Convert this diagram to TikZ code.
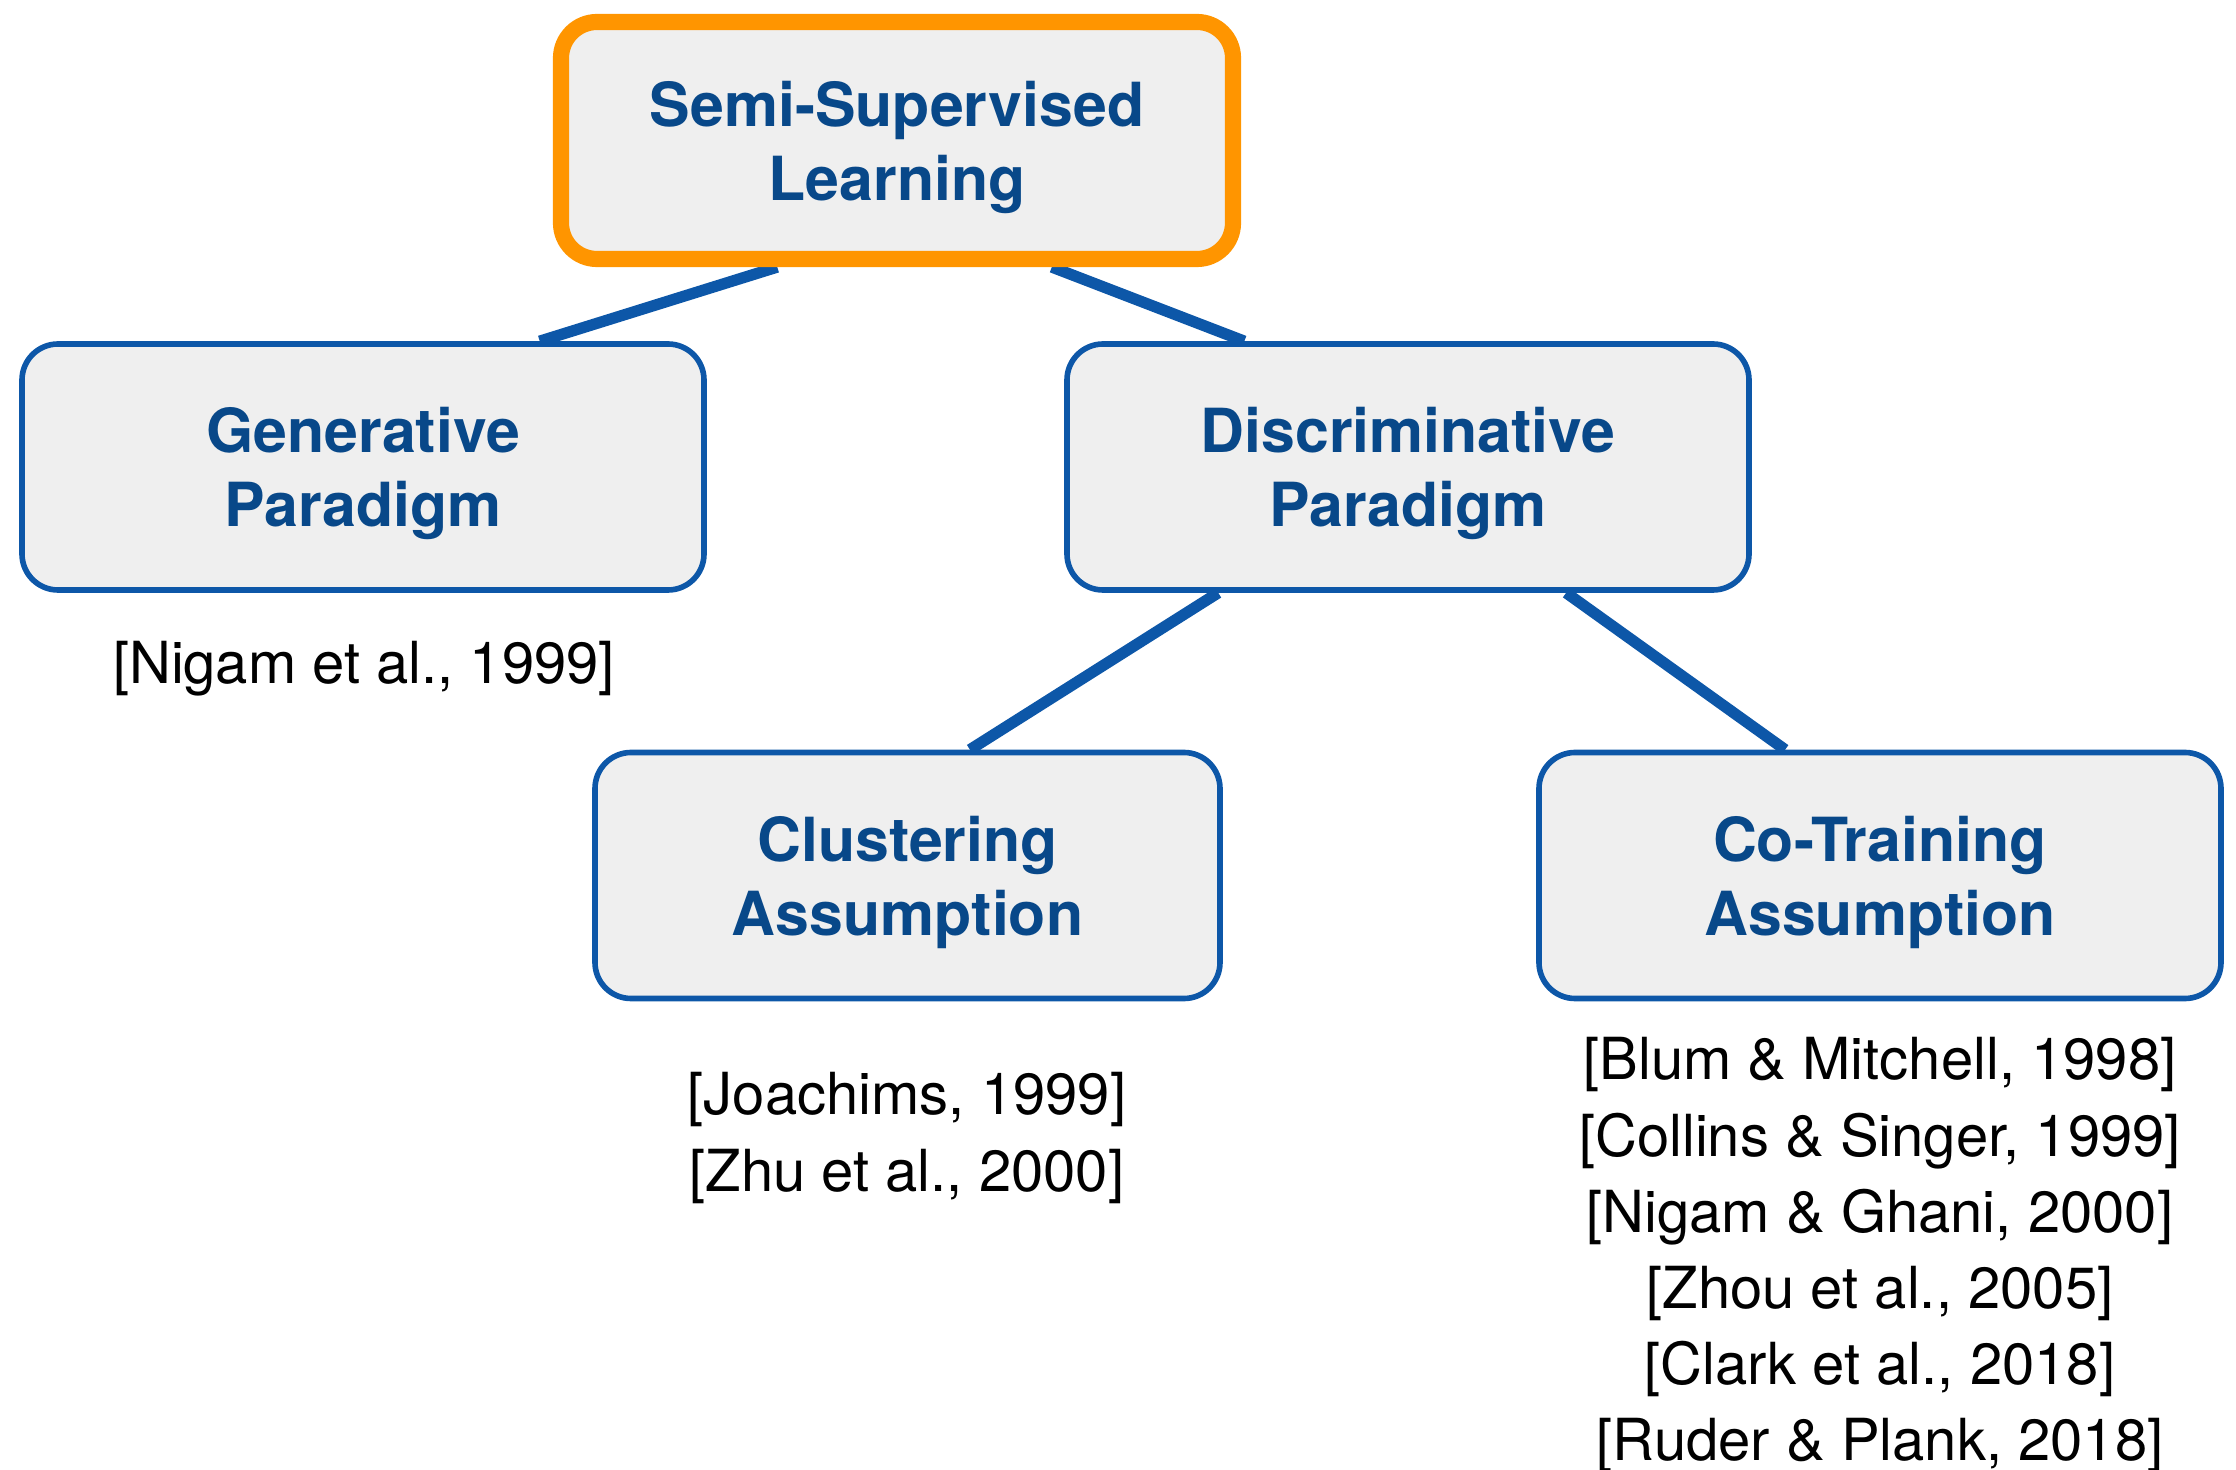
\documentclass[tikz,border=0pt]{standalone}
\usepackage{fontspec}
\setsansfont{TeX Gyre Heros}
\renewcommand{\familydefault}{\sfdefault}
\usetikzlibrary{calc,backgrounds}
\definecolor{boxfill}{HTML}{EFEFEF}
\definecolor{edgeblue}{HTML}{0D57A8}
\definecolor{textblue}{HTML}{084889}
\definecolor{rootorange}{HTML}{FF9500}

\begin{document}
\begin{tikzpicture}[x=1cm,y=1cm,
    topic/.style={draw=edgeblue,line width=1.6pt,fill=boxfill,rounded corners=0.36cm,
      align=center,text=textblue,font=\bfseries\fontsize{17.3}{21}\selectfont,
      minimum width=6.82cm,minimum height=2.46cm,inner sep=0pt,text depth=0pt},
    cite/.style={font=\fontsize{16.5}{20}\selectfont,anchor=base,inner sep=0pt},
    link/.style={draw=edgeblue,line width=3.2pt}]
  \useasboundingbox (0,0) rectangle (22.36,-14.70);
  % boxes
  \node[topic,draw=rootorange,line width=4.6pt,minimum width=6.72cm,minimum height=2.37cm]
    (ssl) at (8.97,-1.405) {Semi-Supervised\\Learning};
  \node[topic] (gen) at (3.63,-4.67) {Generative\\Paradigm};
  \node[topic] (disc) at (14.08,-4.67) {Discriminative\\Paradigm};
  \node[topic,minimum width=6.25cm] (clus) at (9.075,-8.755) {Clustering\\Assumption};
  \node[topic] (cotr) at (18.80,-8.755) {Co-Training\\Assumption};
  % references
  \node[cite] (gen-ref) at (3.64,-6.84) {[Nigam et al., 1999]};
  \foreach \lab [count=\i] in {{[Joachims, 1999]},{[Zhu et al., 2000]}}
    \node[cite] (clus-ref\i) at (9.07,{-11.15-0.77*(\i-1)}) {\lab};
  \foreach \lab [count=\i] in {
      {[Blum \& Mitchell, 1998]},
      {[Collins \& Singer, 1999]},
      {[Nigam \& Ghani, 2000]},
      {[Zhou et al., 2005]},
      {[Clark et al., 2018]},
      {[Ruder \& Plank, 2018]}}
    \node[cite] (cotr-ref\i) at (18.80,{-10.80-0.762*(\i-1)}) {\lab};
  % tree links
  \begin{scope}[on background layer]
    \draw[link] ($(ssl.south west)!0.326!(ssl.south east)$) -- ($(gen.north west)!0.757!(gen.north east)$);
    \draw[link] ($(ssl.south west)!0.725!(ssl.south east)$) -- ($(disc.north west)!0.262!(disc.north east)$);
    \draw[link] ($(disc.south west)!0.224!(disc.south east)$) -- ($(clus.north west)!0.599!(clus.north east)$);
    \draw[link] ($(disc.south west)!0.730!(disc.south east)$) -- ($(cotr.north west)!0.362!(cotr.north east)$);
  \end{scope}
\end{tikzpicture}
\end{document}
